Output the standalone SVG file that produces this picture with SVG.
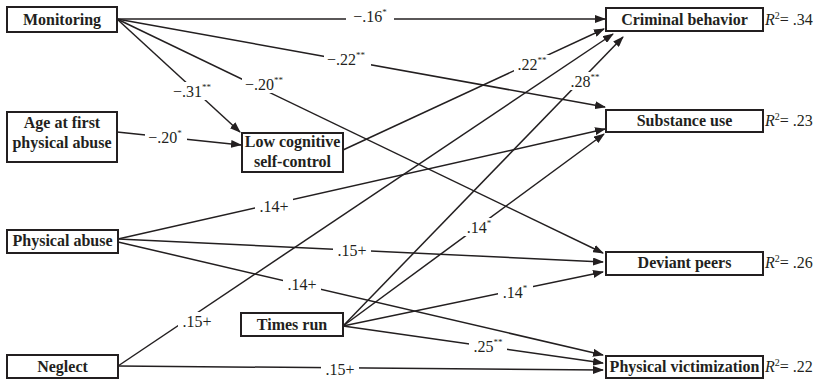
<svg xmlns="http://www.w3.org/2000/svg" width="819" height="379" viewBox="0 0 819 379">
<defs>
<marker id="ah" markerUnits="userSpaceOnUse" markerWidth="11" markerHeight="8" refX="10" refY="4" orient="auto">
<path d="M0,0 L11,4 L0,8 z" fill="#231f20"/>
</marker>
<style>
.box{fill:#fff;stroke:#231f20;stroke-width:2}
.nt{font-family:"Liberation Serif","Times New Roman",serif;font-weight:bold;font-size:16px;fill:#231f20;text-anchor:middle}
.ln{stroke:#231f20;stroke-width:1.5;fill:none;marker-end:url(#ah)}
.lb{font-family:"Liberation Serif","Times New Roman",serif;font-size:16px;fill:#231f20;text-anchor:middle}
.bg{fill:#fff}
.r2{font-family:"Liberation Serif","Times New Roman",serif;font-size:16px;fill:#231f20}
.st{font-size:9px}
</style>
</defs>
<rect width="819" height="379" fill="#fff"/>
<g id="connectors">
<line class="ln" x1="117" y1="19" x2="605" y2="19"/>
<line class="ln" x1="117" y1="19" x2="605" y2="107"/>
<line class="ln" x1="117" y1="19" x2="240" y2="132"/>
<line class="ln" x1="117" y1="19" x2="603" y2="253"/>
<line class="ln" x1="117" y1="132" x2="241" y2="145"/>
<line class="ln" x1="343" y1="150" x2="604" y2="29"/>
<line class="ln" x1="118" y1="239" x2="605" y2="129"/>
<line class="ln" x1="118" y1="239" x2="603" y2="262"/>
<line class="ln" x1="118" y1="242" x2="603" y2="355"/>
<line class="ln" x1="118" y1="366" x2="613" y2="34"/>
<line class="ln" x1="118" y1="366" x2="603" y2="370"/>
<line class="ln" x1="343" y1="326" x2="623" y2="37"/>
<line class="ln" x1="343" y1="326" x2="604" y2="134"/>
<line class="ln" x1="343" y1="326" x2="603" y2="272"/>
<line class="ln" x1="343" y1="326" x2="603" y2="363"/>
</g>
<g id="labels">
<rect class="bg" x="346" y="7" width="48" height="18"/>
<text class="lb" x="370" y="22">−.16<tspan class="st" dy="-7">*</tspan></text>
<rect class="bg" x="324" y="50" width="47" height="18"/>
<text class="lb" x="346" y="65">−.22<tspan class="st" dy="-7">**</tspan></text>
<rect class="bg" x="170" y="82" width="47" height="18"/>
<text class="lb" x="192" y="97">−.31<tspan class="st" dy="-7">**</tspan></text>
<rect class="bg" x="242" y="75" width="46" height="18"/>
<text class="lb" x="264" y="90">−.20<tspan class="st" dy="-7">**</tspan></text>
<rect class="bg" x="145" y="128" width="42" height="18"/>
<text class="lb" x="165" y="143">−.20<tspan class="st" dy="-7">*</tspan></text>
<rect class="bg" x="514" y="55" width="38" height="18"/>
<text class="lb" x="532" y="70">.22<tspan class="st" dy="-7">**</tspan></text>
<rect class="bg" x="568" y="72" width="35" height="18"/>
<text class="lb" x="585" y="87">.28<tspan class="st" dy="-7">**</tspan></text>
<rect class="bg" x="255" y="197" width="38" height="18"/>
<text class="lb" x="274" y="212">.14+</text>
<rect class="bg" x="333" y="241" width="38" height="18"/>
<text class="lb" x="352" y="256">.15+</text>
<rect class="bg" x="283" y="275" width="38" height="18"/>
<text class="lb" x="302" y="290">.14+</text>
<rect class="bg" x="178" y="312" width="38" height="18"/>
<text class="lb" x="197" y="327">.15+</text>
<rect class="bg" x="321" y="361" width="38" height="17"/>
<text class="lb" x="340" y="375">.15+</text>
<rect class="bg" x="462" y="218" width="35" height="18"/>
<text class="lb" x="479" y="233">.14<tspan class="st" dy="-7">*</tspan></text>
<rect class="bg" x="498" y="283" width="35" height="18"/>
<text class="lb" x="515" y="298">.14<tspan class="st" dy="-7">*</tspan></text>
<rect class="bg" x="469" y="337" width="38" height="18"/>
<text class="lb" x="488" y="352">.25<tspan class="st" dy="-7">**</tspan></text>
</g>
<g id="n-monitoring">
<rect class="box" x="7" y="7" width="110" height="25"/>
<text class="nt" x="62" y="25">Monitoring</text>
</g>
<g id="n-age">
<rect class="box" x="7" y="112" width="110" height="50"/>
<text class="nt" x="62" y="128">Age at first</text>
<text class="nt" x="62" y="148">physical abuse</text>
</g>
<g id="n-lowcog">
<rect class="box" x="242" y="133" width="101" height="39"/>
<text class="nt" x="292.5" y="147">Low cognitive</text>
<text class="nt" x="292.5" y="167">self-control</text>
</g>
<g id="n-physabuse">
<rect class="box" x="7" y="230" width="111" height="23"/>
<text class="nt" x="62.5" y="246">Physical abuse</text>
</g>
<g id="n-neglect">
<rect class="box" x="7" y="355" width="111" height="23"/>
<text class="nt" x="62.5" y="372">Neglect</text>
</g>
<g id="n-timesrun">
<rect class="box" x="241" y="313" width="102" height="23"/>
<text class="nt" x="292" y="330">Times run</text>
</g>
<g id="n-criminal">
<rect class="box" x="606" y="8" width="157" height="23"/>
<text class="nt" x="684.5" y="25">Criminal behavior</text>
<text class="r2" x="765" y="25"><tspan font-style="italic">R</tspan><tspan font-size="10" dy="-6">2</tspan><tspan dy="6">= .34</tspan></text>
</g>
<g id="n-substance">
<rect class="box" x="606" y="110" width="157" height="22"/>
<text class="nt" x="684.5" y="126">Substance use</text>
<text class="r2" x="765" y="126"><tspan font-style="italic">R</tspan><tspan font-size="10" dy="-6">2</tspan><tspan dy="6">= .23</tspan></text>
</g>
<g id="n-deviant">
<rect class="box" x="606" y="252" width="157" height="23"/>
<text class="nt" x="684.5" y="268">Deviant peers</text>
<text class="r2" x="765" y="268"><tspan font-style="italic">R</tspan><tspan font-size="10" dy="-6">2</tspan><tspan dy="6">= .26</tspan></text>
</g>
<g id="n-victim">
<rect class="box" x="606" y="356" width="157" height="22"/>
<text class="nt" x="684.5" y="372">Physical victimization</text>
<text class="r2" x="765" y="372"><tspan font-style="italic">R</tspan><tspan font-size="10" dy="-6">2</tspan><tspan dy="6">= .22</tspan></text>
</g>
</svg>
